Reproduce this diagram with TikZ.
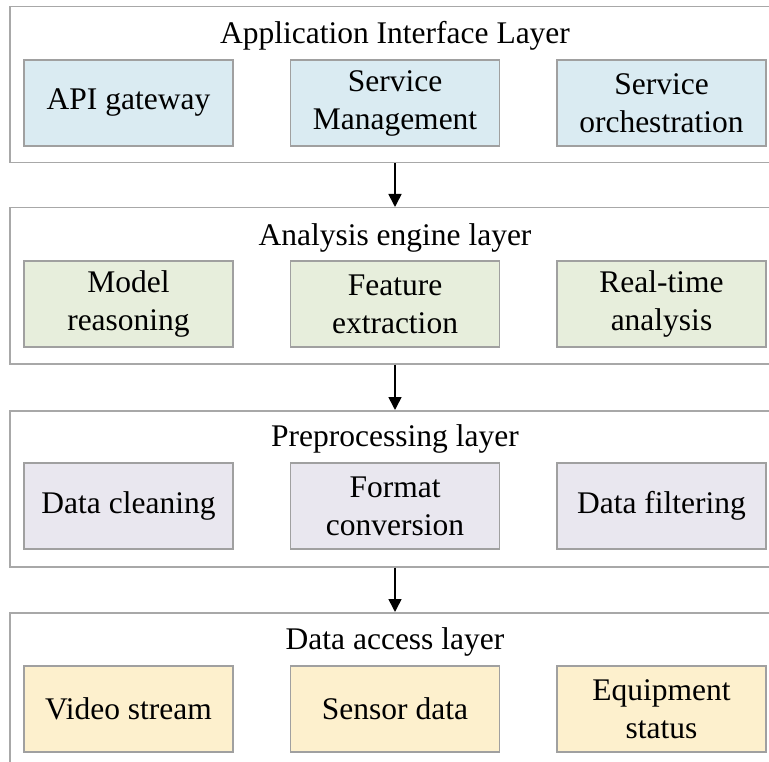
\documentclass[tikz,border=0pt]{standalone}
\usepackage{fontspec}
\setmainfont{Liberation Serif}
\usepackage{xcolor}
\usepackage{tikz}
\usetikzlibrary{positioning, arrows.meta}

\definecolor{layerline}{HTML}{A8A8A8}
\definecolor{boxline}{HTML}{A0A0A0}
\definecolor{appblue}{HTML}{DAEBF2}
\definecolor{anagreen}{HTML}{E7EEDC}
\definecolor{prelilac}{HTML}{E9E7EF}
\definecolor{accyellow}{HTML}{FDF0CD}

\begin{document}
\begin{tikzpicture}[
    x=1pt, y=1pt,
    every node/.style={align=center, font=\fontsize{31.5}{38}\selectfont, inner sep=0pt},
    layer/.style={draw=layerline, line width=1.5pt, rectangle, anchor=north west, minimum width=790pt, minimum height=156pt},
    part/.style={draw=boxline, line width=1.5pt, rectangle, minimum width=209pt, minimum height=86pt},
    flow/.style={-{Triangle[length=13pt, width=13pt]}, line width=1.6pt}
]
\path[use as bounding box, clip] (0,0) rectangle (769,-762);

% application interface layer
\node[layer] (app) at (9,-6) {};
\node (apptitle) at (395,-36) {Application Interface Layer};
\node[part, fill=appblue] (api) at (128.5,-103) {API gateway};
\node[part, fill=appblue, right=56pt of api] (mgmt) {Service\\Management};
\node[part, fill=appblue, right=56pt of mgmt] (orch) {Service\\orchestration};

% analysis engine layer
\node[layer] (ana) at (9,-207) {};
\node (anatitle) at (395,-238) {Analysis engine layer};
\node[part, fill=anagreen] (model) at (128.5,-304) {Model\\reasoning};
\node[part, fill=anagreen, right=56pt of model] (feat) {Feature\\extraction};
\node[part, fill=anagreen, right=56pt of feat] (rta) {Real-time\\analysis};

% preprocessing layer
\node[layer] (pre) at (9,-410) {};
\node (pretitle) at (395,-439) {Preprocessing layer};
\node[part, fill=prelilac] (clean) at (128.5,-506) {Data cleaning};
\node[part, fill=prelilac, right=56pt of clean] (conv) {Format\\conversion};
\node[part, fill=prelilac, right=56pt of conv] (filt) {Data filtering};

% data access layer
\node[layer] (acc) at (9,-612) {};
\node (acctitle) at (395,-642) {Data access layer};
\node[part, fill=accyellow] (video) at (128.5,-709) {Video stream};
\node[part, fill=accyellow, right=56pt of video] (sensor) {Sensor data};
\node[part, fill=accyellow, right=56pt of sensor] (equip) {Equipment\\status};

% flow between layers
\draw[flow] (app.south -| apptitle) -- (ana.north -| apptitle);
\draw[flow] (ana.south -| anatitle) -- (pre.north -| anatitle);
\draw[flow] (pre.south -| pretitle) -- (acc.north -| pretitle);
\end{tikzpicture}
\end{document}
